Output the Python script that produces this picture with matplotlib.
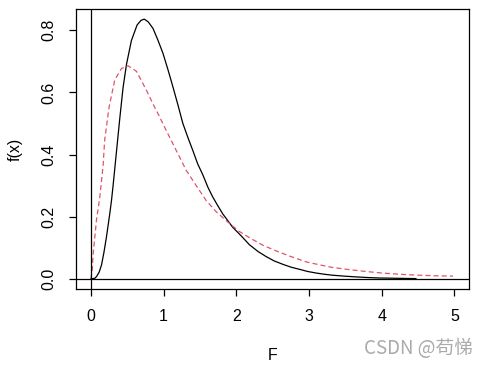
"""F density curves, redrawn from an R base-graphics plot."""
import matplotlib
matplotlib.use("Agg")
import matplotlib.pyplot as plt

# Points (solid black curve)
black_x = [0.0, 0.055, 0.08, 0.115, 0.147, 0.18, 0.215, 0.26, 0.284, 0.306, 0.352,
           0.398, 0.443, 0.49, 0.558, 0.636, 0.69, 0.735, 0.79, 0.855, 0.92,
           0.992, 1.06, 1.129, 1.2, 1.266, 1.335, 1.403, 1.47, 1.54, 1.61,
           1.678, 1.745, 1.815, 1.885, 1.952, 2.07, 2.181, 2.3, 2.41, 2.52,
           2.64, 2.75, 2.867, 2.98, 3.096, 3.21, 3.32, 3.48, 3.645, 3.8,
           3.96, 4.2, 4.47]
black_y = [0.0, 0.002, 0.008, 0.022, 0.045, 0.085, 0.135, 0.209, 0.252, 0.3, 0.408,
           0.516, 0.615, 0.69, 0.767, 0.817, 0.832, 0.836, 0.827, 0.806, 0.77,
           0.726, 0.674, 0.618, 0.558, 0.5, 0.455, 0.413, 0.37, 0.335, 0.295,
           0.263, 0.236, 0.209, 0.187, 0.166, 0.138, 0.11, 0.088, 0.072, 0.058,
           0.047, 0.038, 0.031, 0.024, 0.019, 0.015, 0.012, 0.009, 0.0065, 0.0045,
           0.003, 0.002, 0.001]

# Points (dashed red curve)
red_x = [0.0, 0.018, 0.032, 0.078, 0.123, 0.169, 0.19, 0.251, 0.329, 0.421,
         0.512, 0.627, 0.7, 0.786, 0.855, 0.923, 0.99, 1.06, 1.175, 1.313,
         1.45, 1.587, 1.724, 1.884, 2.04, 2.2, 2.37, 2.55, 2.75, 2.959,
         3.15, 3.32, 3.55, 3.78, 4.0, 4.24, 4.5, 4.75, 4.98]
red_y = [0.0, 0.026, 0.08, 0.19, 0.262, 0.365, 0.446, 0.553, 0.64, 0.677,
         0.686, 0.668, 0.636, 0.597, 0.563, 0.532, 0.5, 0.467, 0.413, 0.349,
         0.3, 0.252, 0.216, 0.183, 0.153, 0.13, 0.108, 0.09, 0.072, 0.055,
         0.045, 0.037, 0.03, 0.024, 0.019, 0.015, 0.012, 0.01, 0.009]

x_ticks = [0, 1, 2, 3, 4, 5]
y_ticks = [0.0, 0.2, 0.4, 0.6, 0.8]

plt.rcParams["font.family"] = ["Liberation Sans", "DejaVu Sans"]

fig = plt.figure(figsize=(4.89, 3.66), dpi=100)
ax = fig.add_axes([0.156, 0.2096, 0.803, 0.7650])

ax.plot(black_x, black_y, color="black", lw=0.9)
ax.plot(red_x, red_y, color="#DF536B", lw=0.9, ls=(0, (4, 2.5)))
ax.axhline(0, color="black", lw=0.9)
ax.axvline(0, color="black", lw=0.9)

ax.set_xlim(-0.2, 5.2)
ax.set_ylim(-0.0334, 0.8676)
ax.set_xticks(x_ticks)
ax.set_xticklabels([str(t) for t in x_ticks])
ax.set_yticks(y_ticks)
ax.set_yticklabels([f"{t:.1f}" for t in y_ticks], rotation=90, va="center")
ax.tick_params(direction="out", length=5, width=0.9, pad=9, labelsize=11.5,
               colors="black")
for s in ax.spines.values():
    s.set_linewidth(0.9)

ax.set_xlabel("F", fontsize=11.5)
ax.xaxis.set_label_coords(0.5, -0.238)
ax.xaxis.label.set_va("center")
ax.set_ylabel("f(x)", fontsize=11.5)
ax.yaxis.set_label_coords(-0.156, 0.5)
ax.yaxis.label.set_va("center")

fig.text(0.968, 0.047, "CSDN @苟悌", color="#aaaaaa", fontsize=13.5,
         ha="right", va="center",
         family=["Noto Sans CJK SC", "DejaVu Sans"])

fig.savefig("out.png", dpi=100)
